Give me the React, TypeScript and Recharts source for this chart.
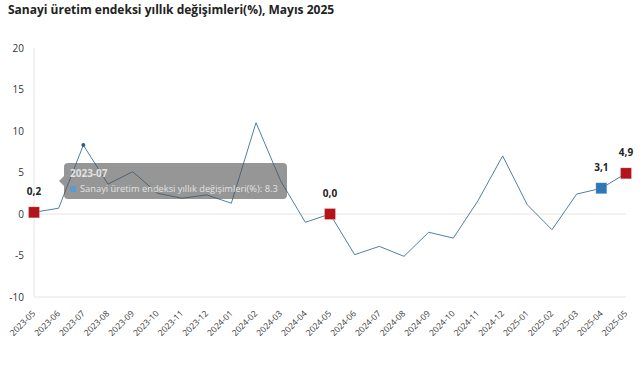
import React from 'react';
import { LineChart, Line, XAxis, YAxis, Tooltip, ReferenceLine, LabelList } from 'recharts';

const months = [
  '2023-05', '2023-06', '2023-07', '2023-08', '2023-09', '2023-10', '2023-11', '2023-12',
  '2024-01', '2024-02', '2024-03', '2024-04', '2024-05', '2024-06', '2024-07', '2024-08',
  '2024-09', '2024-10', '2024-11', '2024-12', '2025-01', '2025-02', '2025-03', '2025-04', '2025-05',
];
const values = [
  0.2, 0.7, 8.3, 3.6, 5.1, 2.5, 1.9, 2.3,
  1.3, 11.0, 4.0, -1.0, 0.0, -4.9, -3.9, -5.1,
  -2.2, -2.9, 1.6, 7.0, 1.1, -1.9, 2.4, 3.1, 4.9,
];
const yTicks = [-10, -5, 0, 5, 10, 15, 20];
const highlightedMonths = ['2023-05', '2024-05', '2025-04', '2025-05'];
const highlightKinds = ['red', 'red', 'blue', 'red'];

const seriesName = 'Sanayi üretim endeksi yıllık değişimleri(%)';
const title = 'Sanayi üretim endeksi yıllık değişimleri(%), Mayıs 2025';
const tooltipIndex = 2;

const COLORS: Record<string, string> = { red: '#b3141c', blue: '#2e78b7' };
const FONT = '"Open Sans", "Noto Sans", sans-serif';

const data = months.map((m, i) => ({ month: m, value: values[i] }));

const kindFor = (month: string) => {
  const idx = highlightedMonths.indexOf(month);
  return idx >= 0 ? highlightKinds[idx] : null;
};

const SquareDot = (props: any) => {
  const { cx, cy, payload, index } = props;
  const kind = kindFor(payload.month);
  if (!kind || cx == null || cy == null) return <g key={`d${index}`} />;
  const s = 11;
  return (
    <rect
      key={`d${index}`}
      x={cx - s / 2}
      y={cy - s / 2}
      width={s}
      height={s}
      fill={COLORS[kind]}
      stroke="#ffffff"
      strokeOpacity={0.4}
      strokeWidth={0.6}
    />
  );
};

const renderLabel = (props: any) => {
  const { x, y, value, index } = props;
  if (!kindFor(months[index])) return null;
  return (
    <text
      key={`l${index}`}
      x={x}
      y={y - 17}
      textAnchor="middle"
      fontSize={10}
      fontWeight="bold"
      fill="#222"
      fontFamily={FONT}
    >
      {Number(value).toFixed(1).replace('.', ',')}
    </text>
  );
};

const XTick = (props: any) => {
  const { x, y, payload } = props;
  const ax = x + 2;
  const ay = y + 17;
  return (
    <text
      x={ax}
      y={ay}
      transform={`rotate(-45, ${ax}, ${ay})`}
      textAnchor="end"
      fontSize={8.5}
      fill="#333"
      fontFamily={FONT}
    >
      {payload.value}
    </text>
  );
};

const TooltipBox = (props: any) => {
  const { active, payload, label } = props;
  if (!active || !payload || !payload.length) return null;
  const bg = 'rgba(80,80,80,0.6)';
  return (
    <div
      style={{
        position: 'relative',
        width: 223,
        height: 36,
        background: bg,
        borderRadius: 4,
        fontFamily: FONT,
        color: '#e2e2e2',
        boxSizing: 'border-box',
        padding: '3px 6px',
      }}
    >
      <div
        style={{
          position: 'absolute',
          left: -5,
          top: 13,
          width: 0,
          height: 0,
          borderTop: '5px solid transparent',
          borderBottom: '5px solid transparent',
          borderRight: `5px solid ${bg}`,
        }}
      />
      <div style={{ fontSize: 10, fontWeight: 'bold', lineHeight: '14px' }}>{label}</div>
      <div style={{ fontSize: 9.3, lineHeight: '18px', whiteSpace: 'nowrap' }}>
        <span
          style={{
            display: 'inline-block',
            width: 6,
            height: 6,
            background: '#5b9bd5',
            marginRight: 4,
          }}
        />
        {payload[0].name}: {payload[0].value}
      </div>
    </div>
  );
};

export default function App() {
  return (
    <div style={{ position: 'absolute', left: 0, top: 0, width: 640, height: 375, background: '#fff' }}>
      <div
        style={{
          position: 'absolute',
          left: 8,
          top: 1,
          fontFamily: FONT,
          fontWeight: 'bold',
          fontSize: 12,
          color: '#222',
          whiteSpace: 'nowrap',
        }}
      >
        {title}
      </div>
      <LineChart
        width={640}
        height={375}
        data={data}
        margin={{ top: 48, right: 14, bottom: 18, left: 0 }}
      >
        <XAxis
          dataKey="month"
          interval={0}
          axisLine={{ stroke: '#e4e4e4' }}
          tickLine={false}
          tickSize={0}
          tickMargin={0}
          height={60}
          tick={<XTick />}
        />
        <YAxis
          domain={[-10, 20]}
          ticks={yTicks}
          width={34}
          axisLine={{ stroke: '#e4e4e4' }}
          tickLine={false}
          tickSize={0}
          tickMargin={10}
          tick={{ fontSize: 10, fill: '#333', fontFamily: FONT }}
        />
        <ReferenceLine y={0} stroke="#e4e4e4" />
        <Tooltip
          defaultIndex={tooltipIndex}
          position={{ x: 64, y: 163 }}
          cursor={false}
          isAnimationActive={false}
          content={<TooltipBox />}
        />
        <Line
          type="linear"
          dataKey="value"
          name={seriesName}
          stroke="#4f7fa6"
          strokeWidth={1}
          dot={SquareDot}
          activeDot={{ r: 2, fill: '#2d5f8a', stroke: 'none' }}
          isAnimationActive={false}
        >
          <LabelList dataKey="value" content={renderLabel} />
        </Line>
      </LineChart>
    </div>
  );
}
